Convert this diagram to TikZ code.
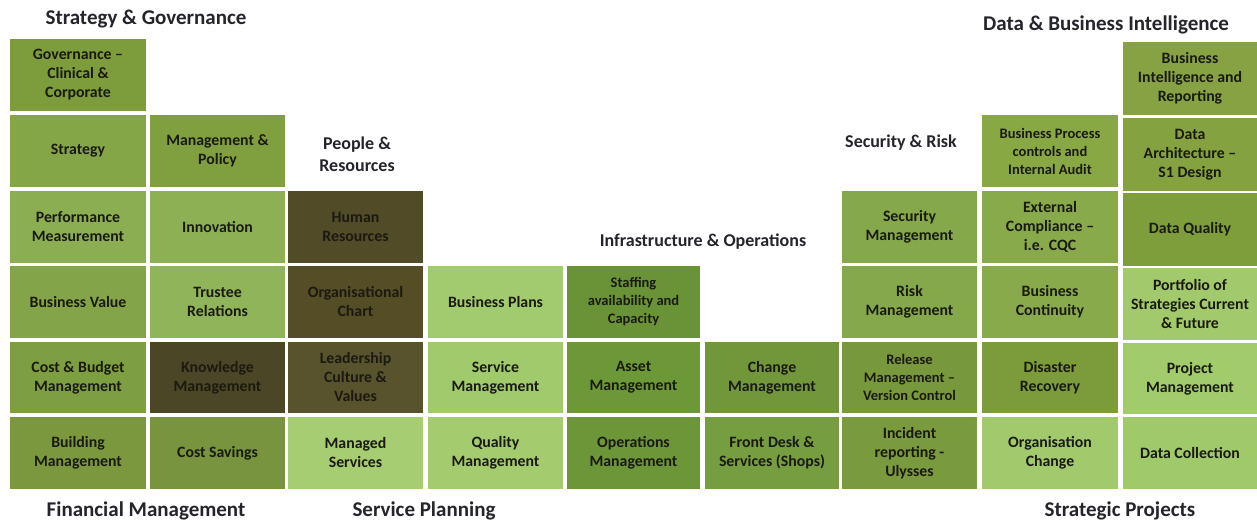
\documentclass[tikz,border=0pt]{standalone}
\usepackage{fontspec}
\setmainfont{Carlito}

\definecolor{tiletext}{HTML}{1A1A10}
\definecolor{headtext}{HTML}{24242C}

\newcommand\tilefont{\bfseries\fontsize{15.8bp}{19bp}\selectfont}
\newcommand\smalltilefont{\bfseries\fontsize{14.5bp}{18bp}\selectfont}
\newcommand\headfont{\bfseries\fontsize{21bp}{22bp}\selectfont}
\newcommand\midheadfont{\bfseries\fontsize{18bp}{22bp}\selectfont}

\tikzset{
  tile/.style={inner sep=0pt, align=center, text=tiletext, font=\tilefont},
  header/.style={inner sep=0pt, align=center, text=headtext, font=\headfont},
  midheader/.style={header, font=\midheadfont},
}

% \gridtile[options]{name}{x1}{y1}{x2}{y2}{hex fill}{text}
\newcommand\gridtile[8][]{%
  \definecolor{fill#2}{HTML}{#7}%
  \node[tile, fill=fill#2, minimum width={(#5-#3)*1bp}, minimum height={(#6-#4)*1bp}, #1]
    (#2) at ({(#3+#5)/2},{(#4+#6)/2}) {#8};}

\begin{document}
\begin{tikzpicture}[x=1bp, y=-1bp]
\useasboundingbox[fill=white] (0,0) rectangle (1257,522);

% Strategy & Governance / Financial Management
\gridtile{gov}{10}{39}{146}{111}{7D9C3C}{Governance --\\Clinical \&\\Corporate}
\gridtile{strat}{10}{115}{146}{187}{84A646}{Strategy}
\gridtile{perf}{10}{191}{146}{263}{8BAE52}{Performance\\Measurement}
\gridtile{bval}{10}{266}{146}{338}{84A448}{Business Value}
\gridtile{cost}{10}{342}{146}{413}{7E9E42}{Cost \& Budget\\Management}
\gridtile{build}{10}{417}{146}{489}{7C983E}{Building\\Management}

\gridtile{mgmt}{150}{115}{285}{187}{80A040}{Management \&\\Policy}
\gridtile{innov}{150}{191}{285}{263}{8DB055}{Innovation}
\gridtile{trust}{150}{266}{285}{338}{90B45A}{Trustee\\Relations}
\gridtile{know}{150}{342}{285}{413}{4B4726}{Knowledge\\Management}
\gridtile{save}{150}{417}{285}{489}{79943E}{Cost Savings}

% People & Resources
\gridtile{hr}{288}{191}{423}{263}{514B27}{Human\\Resources}
\gridtile{org}{288}{266}{423}{338}{544D26}{Organisational\\Chart}
\gridtile{lead}{288}{342}{423}{413}{58532C}{Leadership\\Culture \&\\Values}
\gridtile{msvc}{288}{417}{423}{489}{A6CD72}{Managed\\Services}

% Service Planning
\gridtile{plans}{428}{266}{563}{338}{A2CA6E}{Business Plans}
\gridtile{svc}{428}{342}{563}{413}{A0CA6C}{Service\\Management}
\gridtile{qual}{428}{417}{563}{489}{A4CC6E}{Quality\\Management}

% Infrastructure & Operations
\gridtile[font=\smalltilefont]{staff}{567}{266}{700}{338}{6A9236}{Staffing\\availability and\\Capacity}
\gridtile{asset}{567}{342}{700}{413}{6C9838}{Asset\\Management}
\gridtile{ops}{567}{417}{700}{489}{6C9638}{Operations\\Management}
\gridtile{change}{705}{342}{839}{413}{72963A}{Change\\Management}
\gridtile{front}{705}{417}{839}{489}{769E40}{Front Desk \&\\Services (Shops)}

% Security & Risk
\gridtile{sec}{842}{191}{977}{263}{84A84A}{Security\\Management}
\gridtile{risk}{842}{266}{977}{338}{84A84A}{Risk\\Management}
\gridtile[font=\smalltilefont]{rel}{842}{342}{977}{413}{78983C}{Release\\Management --\\Version Control}
\gridtile{inc}{842}{417}{977}{489}{7A9A3E}{Incident\\reporting -\\Ulysses}

\gridtile[font=\smalltilefont]{bproc}{982}{115}{1118}{187}{88A844}{Business Process\\controls and\\Internal Audit}
\gridtile{ext}{982}{191}{1118}{263}{88AA4A}{External\\Compliance --\\i.e. CQC}
\gridtile{cont}{982}{266}{1118}{338}{88AA4A}{Business\\Continuity}
\gridtile{dis}{982}{342}{1118}{413}{7C9C3C}{Disaster\\Recovery}
\gridtile{ochg}{982}{417}{1118}{489}{A2CA6C}{Organisation\\Change}

% Data & Business Intelligence / Strategic Projects
\gridtile{bi}{1123}{42}{1257}{115}{86A242}{Business\\Intelligence and\\Reporting}
\gridtile{arch}{1123}{118}{1257}{191}{84A240}{Data\\Architecture --\\S1 Design}
\gridtile{dq}{1123}{193}{1257}{266}{7E9E3C}{Data Quality}
\gridtile{port}{1123}{268}{1257}{340}{A2CA6C}{Portfolio of\\Strategies Current\\\& Future}
\gridtile{proj}{1123}{343}{1257}{414}{A2CC6C}{Project\\Management}
\gridtile{coll}{1123}{417}{1257}{489}{A0CA6A}{Data Collection}

% Group headings
\node[header] (hsg) at (146,19) {Strategy \& Governance};
\node[midheader] (hpr) at (357,154) {People \&\\Resources};
\node[midheader] (hio) at (703,242) {Infrastructure \& Operations};
\node[midheader] (hsr) at (901,143) {Security \& Risk};
\node[header] (hdbi) at (1106,25) {Data \& Business Intelligence};
\node[header] (hfm) at (146,511) {Financial Management};
\node[header] (hsp) at (424,511) {Service Planning};
\node[header] (hsproj) at (1120,511) {Strategic Projects};
\end{tikzpicture}
\end{document}
